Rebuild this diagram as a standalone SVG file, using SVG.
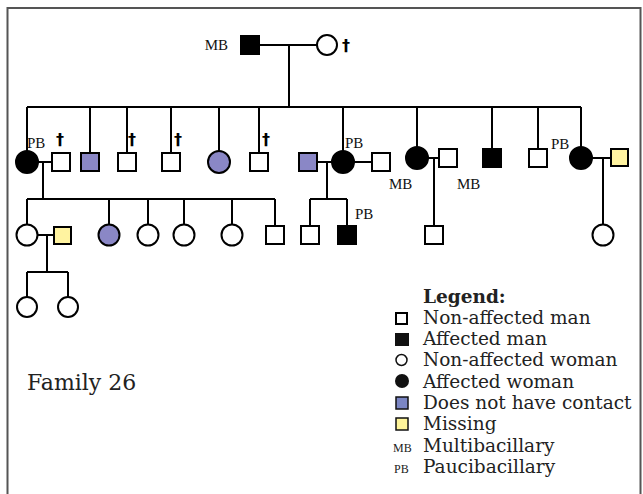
<svg xmlns="http://www.w3.org/2000/svg" width="643" height="494" viewBox="0 0 643 494">
<style>
.ln{stroke:#000;stroke-width:2;fill:none}
.m{fill:#fff;stroke:#000;stroke-width:2}
.a{fill:#000;stroke:#000;stroke-width:2}
.p{fill:#8a87c6;stroke:#000;stroke-width:2}
.y{fill:#fff3a0;stroke:#000;stroke-width:2}
.lb{font-family:"Liberation Serif",serif;font-size:15px;fill:#111}
.dg{font-family:"DejaVu Sans",sans-serif;font-size:16px;font-weight:bold;fill:#000}
.lg{font-family:"DejaVu Serif",serif;font-size:18.5px;fill:#222}
.sm{font-family:"Liberation Serif",serif;font-size:12px;fill:#222}
</style>
<rect x="7.5" y="8" width="633" height="500" fill="#fff" stroke="#555" stroke-width="2"/>
<g id="connectors">
<path class="ln" d="M259 45H317M289 45V107M27 107H581"/>
<path class="ln" d="M27 107V151M90 107V153M127 107V153M171 107V153M219 107V151M259 107V153M343 107V151M417 107V147M492 107V149M538 107V149M581 107V147"/>
<path class="ln" d="M38 162H52M43 162V199M27 199H275M27 199V224M109 199V224M148 199V224M184 199V224M232 199V224M275 199V226"/>
<path class="ln" d="M37 235H54M47 235V272M27 272H68M27 272V297M68 272V297"/>
<path class="ln" d="M317 162H332M327 162V199M310 199H347M310 199V226M347 199V226M354 162H372"/>
<path class="ln" d="M428 158H439M434 158V226M592 158H611M603 158V224"/>
</g>
<g id="I-1"><rect class="a" x="241" y="36" width="18" height="18"/><text class="lb" x="228" y="50" text-anchor="end">MB</text></g>
<g id="I-2"><circle class="m" cx="327" cy="45" r="10"/><text class="dg" x="342" y="51">†</text></g>
<g id="II-1"><circle class="a" cx="27" cy="162" r="11"/><text class="lb" x="27" y="148">PB</text></g>
<g id="II-1s"><rect class="m" x="52" y="153" width="18" height="18"/><text class="dg" x="56" y="145">†</text></g>
<g id="II-2"><rect class="p" x="81" y="153" width="18" height="18"/></g>
<g id="II-3"><rect class="m" x="118" y="153" width="18" height="18"/><text class="dg" x="128" y="145">†</text></g>
<g id="II-4"><rect class="m" x="162" y="153" width="18" height="18"/><text class="dg" x="174" y="145">†</text></g>
<g id="II-5"><circle class="p" cx="219" cy="162" r="11"/></g>
<g id="II-6"><rect class="m" x="250" y="153" width="18" height="18"/><text class="dg" x="262" y="145">†</text></g>
<g id="II-7s1"><rect class="p" x="299" y="153" width="18" height="18"/></g>
<g id="II-7"><circle class="a" cx="343" cy="162" r="11"/><text class="lb" x="345" y="148">PB</text></g>
<g id="II-7s2"><rect class="m" x="372" y="153" width="18" height="18"/></g>
<g id="II-8"><circle class="a" cx="417" cy="158" r="11"/><text class="lb" x="389" y="189">MB</text></g>
<g id="II-8s"><rect class="m" x="439" y="149" width="18" height="18"/><text class="lb" x="457" y="189">MB</text></g>
<g id="II-9"><rect class="a" x="483" y="149" width="18" height="18"/></g>
<g id="II-10"><rect class="m" x="529" y="149" width="18" height="18"/></g>
<g id="II-11"><circle class="a" cx="581" cy="158" r="11"/><text class="lb" x="551" y="149">PB</text></g>
<g id="II-11s"><rect class="y" x="611" y="149" width="17" height="17"/></g>
<g id="III-1"><circle class="m" cx="27" cy="235" r="10.5"/></g>
<g id="III-1s"><rect class="y" x="54" y="227" width="17" height="17"/></g>
<g id="III-2"><circle class="p" cx="109" cy="235" r="10.5"/></g>
<g id="III-3"><circle class="m" cx="148" cy="235" r="10.5"/></g>
<g id="III-4"><circle class="m" cx="184" cy="235" r="10.5"/></g>
<g id="III-5"><circle class="m" cx="232" cy="235" r="10.5"/></g>
<g id="III-6"><rect class="m" x="266" y="226" width="18" height="18"/></g>
<g id="III-7"><rect class="m" x="301" y="226" width="18" height="18"/></g>
<g id="III-8"><rect class="a" x="338" y="226" width="18" height="18"/><text class="lb" x="355" y="219">PB</text></g>
<g id="III-9"><rect class="m" x="425" y="226" width="18" height="18"/></g>
<g id="III-10"><circle class="m" cx="603" cy="235" r="10.5"/></g>
<g id="IV-1"><circle class="m" cx="27" cy="307" r="10"/></g>
<g id="IV-2"><circle class="m" cx="68" cy="307" r="10"/></g>
<g id="legend">
<text class="lg" x="423" y="303" font-weight="bold">Legend:</text>
<rect class="m" x="396" y="313" width="11" height="11" stroke-width="1.5"/><text class="lg" x="423" y="324">Non-affected man</text>
<rect x="395" y="333" width="14" height="13" fill="#111"/><text class="lg" x="423" y="345">Affected man</text>
<circle cx="401.5" cy="360" r="5.5" fill="#fff" stroke="#111" stroke-width="1.5"/><text class="lg" x="423" y="366">Non-affected woman</text>
<circle cx="402" cy="381" r="7" fill="#111"/><text class="lg" x="423" y="388">Affected woman</text>
<rect x="396" y="397" width="12" height="12" fill="#7b86c4" stroke="#111" stroke-width="1.5"/><text class="lg" x="423" y="409">Does not have contact</text>
<rect x="396" y="418" width="12" height="12" fill="#fff59a" stroke="#111" stroke-width="1.5"/><text class="lg" x="423" y="430">Missing</text>
<text class="sm" x="393" y="452">MB</text><text class="lg" x="423" y="452">Multibacillary</text>
<text class="sm" x="394" y="473">PB</text><text class="lg" x="423" y="473">Paucibacillary</text>
</g>
<text id="title" x="27" y="390" font-family="DejaVu Serif, serif" font-size="22" fill="#222">Family 26</text>
</svg>
